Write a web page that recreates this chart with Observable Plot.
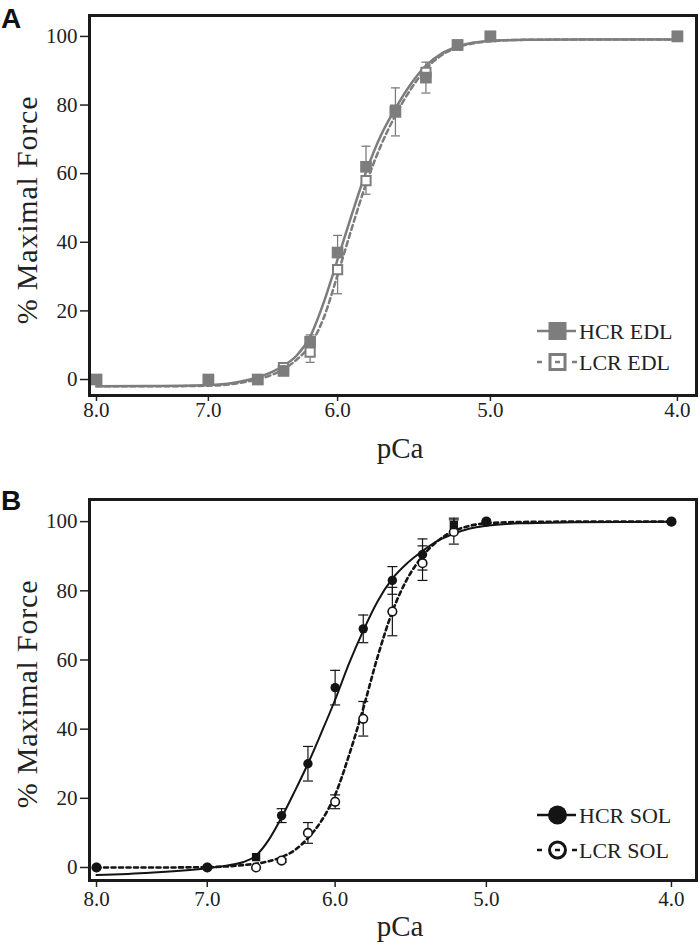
<!DOCTYPE html>
<html><head><meta charset="utf-8">
<script src="https://cdn.jsdelivr.net/npm/d3@7"></script>
<script src="https://cdn.jsdelivr.net/npm/@observablehq/plot@0.6"></script>
<style>
body{margin:0;background:#fff;}
#chart{width:700px;}
#chart svg{display:block;}
#chart svg text{font-family:'Liberation Serif','Times New Roman',serif !important;}
#chart svg text.panel-letter{font-family:'Liberation Sans',Arial,sans-serif !important;font-weight:bold;}
</style>
</head><body><div id="chart"></div>
<script>
// ---------- data ----------
const pCa = [8.0, 7.0, 6.6, 6.4, 6.2, 6.0, 5.8, 5.6, 5.4, 5.2, 5.0, 4.0];

// Panel A – EDL
const hcrEDL    = [0, 0, 0, 2.5, 11, 37, 62, 78, 88, 97.5, 100, 100];
const hcrEDLerr = [0, 0, 0, 1, 2, 5, 6, 7, 4.5, 1, 0, 0];
const lcrEDL    = [0, 0, 0, 3.5, 8, 32, 58, 78.5, 89.5, 97.5, 100, 100];
const lcrEDLerr = [0, 0, 0, 1, 3, 7, 4, 7.5, 6, 1, 0, 0];

// Panel B – SOL
const hcrSOL    = [0, 0, 3, 15, 30, 52, 69, 83, 90.5, 99, 100, 100];
const hcrSOLerr = [0, 0, 0, 2, 5, 5, 4, 4, 4.5, 2, 0, 0];
const lcrSOL    = [0, 0, 0, 2, 10, 19, 43, 74, 88, 97, 100, 100];
const lcrSOLerr = [0, 0, 0, 0.5, 3, 2, 5, 7, 5, 3.5, 0, 0];

// fitted curves
const fitPCa    = [8.0, 7.5, 7.0, 6.8, 6.7, 6.6, 6.5, 6.4, 6.3, 6.2, 6.1, 6.0, 5.9, 5.8, 5.7, 5.6, 5.5, 5.4, 5.3, 5.2, 5.1, 5.0, 4.8, 4.5, 4.0];
const hcrEDLfit = [-2, -1.9, -1.6, -1.0, -0.3, 0.6, 2, 4, 7, 12.5, 22.5, 35, 48, 60.5, 71, 79, 86, 91.5, 95, 97, 98.2, 98.7, 99, 99.1, 99.1];
const lcrEDLfit = [-2, -2, -1.8, -1.3, -0.7, 0, 1.2, 3, 5.8, 10, 18, 30.5, 44, 57, 68, 77, 84.5, 90.5, 94.5, 96.8, 98, 98.6, 99, 99.1, 99.1];
const hcrSOLfit = [-2.2, -1.5, -0.2, 0.8, 1.6, 3.5, 8, 14.5, 22, 30, 39, 48.5, 59, 68.5, 77, 83.5, 88, 91.5, 94.5, 96.5, 98, 98.8, 99.5, 99.8, 100];
const lcrSOLfit = [0, 0, 0.1, 0.4, 0.7, 1.1, 1.8, 3, 5, 8.5, 13.5, 21, 32.5, 46, 61, 74, 83.5, 90, 94.5, 97.3, 98.8, 99.5, 99.9, 100, 100];

const xTicks = [8, 7, 6, 5, 4];
const yTicks = [0, 20, 40, 60, 80, 100];
const seriesA = ["HCR EDL", "LCR EDL"];
const seriesB = ["HCR SOL", "LCR SOL"];
const yLabel = "% Maximal Force";
const xLabel = "pCa";

// ---------- helpers ----------
const SERIF = "'Liberation Serif', 'Times New Roman', serif";
const SANS = "'Liberation Sans', Arial, sans-serif";
const rows = (vals, errs) => pCa.map((p, i) => ({pCa: p, v: vals[i], e: errs[i]}));
const fitRows = (vals) => fitPCa.map((p, i) => ({pCa: p, v: vals[i]}));
const capSymbol = (hw) => ({draw(ctx) { ctx.moveTo(-hw, 0); ctx.lineTo(hw, 0); }});

function decorations(opts) {
  return () => {
    const g = d3.create("svg:g").attr("font-family", SERIF).attr("text-anchor", "start");
    g.append("text").attr("class", "panel-letter").attr("x", 1).attr("y", opts.letterY).attr("text-anchor", "start")
      .attr("font-family", SANS).attr("font-weight", "bold").attr("font-size", 28)
      .attr("fill", "#111").text(opts.letter);
    g.append("text").attr("transform", `translate(37,${opts.yLabelY}) rotate(-90)`)
      .attr("text-anchor", "middle").attr("font-size", 30).attr("letter-spacing", 0.8)
      .attr("fill", "#222").text(yLabel);
    g.append("text").attr("x", 400).attr("y", opts.xLabelY)
      .attr("text-anchor", "middle").attr("font-size", 29)
      .attr("fill", "#222").text(xLabel);
    // legend
    const c = opts.color;
    const [y1, y2] = opts.legendY;
    // row 1 (solid, filled)
    g.append("line").attr("x1", 537).attr("x2", 576).attr("y1", y1).attr("y2", y1)
      .attr("stroke", c).attr("stroke-width", 2.5);
    if (opts.shape === "square") {
      g.append("rect").attr("x", 548.5).attr("y", y1 - 9).attr("width", 18).attr("height", 18).attr("fill", c);
    } else {
      g.append("circle").attr("cx", 557.5).attr("cy", y1).attr("r", 9.5).attr("fill", c);
    }
    g.append("text").attr("x", 579).attr("y", y1 + 7.5).attr("text-anchor", "start")
      .attr("font-size", 22).attr("fill", "#222").text(opts.names[0]);
    // row 2 (dashed, open)
    g.append("line").attr("x1", 537).attr("x2", 542).attr("y1", y2).attr("y2", y2)
      .attr("stroke", c).attr("stroke-width", 2.5);
    g.append("line").attr("x1", 572).attr("x2", 577).attr("y1", y2).attr("y2", y2)
      .attr("stroke", c).attr("stroke-width", 2.5);
    if (opts.shape === "square") {
      g.append("rect").attr("x", 550).attr("y", y2 - 7.5).attr("width", 15).attr("height", 15)
        .attr("fill", "#fff").attr("stroke", c).attr("stroke-width", 3);
    } else {
      g.append("circle").attr("cx", 557.5).attr("cy", y2).attr("r", 8)
        .attr("fill", "#fff").attr("stroke", c).attr("stroke-width", 3);
    }
    g.append("line").attr("x1", 555).attr("x2", 560).attr("y1", y2).attr("y2", y2)
      .attr("stroke", c).attr("stroke-width", 2.5);
    g.append("text").attr("x", 579).attr("y", y2 + 7.5).attr("text-anchor", "start")
      .attr("font-size", 22).attr("fill", "#222").text(opts.names[1]);
    return g.node();
  };
}

const style = {fontFamily: SERIF, fontSize: "21px", color: "#222", background: "#fff", overflow: "visible"};
const axisFont = {fontFamily: SERIF, fontSize: 21};

// ---------- Panel A ----------
const grayA = "#7d7d7d";
const hA = rows(hcrEDL, hcrEDLerr), lA = rows(lcrEDL, lcrEDLerr);
const plotA = Plot.plot({
  width: 700, height: 470,
  marginLeft: 89, marginRight: 4, marginTop: 15, marginBottom: 75,
  style,
  x: {type: "log", domain: [8.067, 3.910]},
  y: {domain: [-4.66, 106.1]},
  marks: [
    Plot.axisY({ticks: yTicks, tickSize: 9, tickPadding: 3, label: null, strokeWidth: 1.5, ...axisFont}),
    Plot.axisX({ticks: xTicks, tickSize: 6, tickPadding: 1, label: null, tickFormat: d => d.toFixed(1), strokeWidth: 1.5, ...axisFont}),
    Plot.line(fitRows(lcrEDLfit), {x: "pCa", y: "v", stroke: grayA, strokeWidth: 2.5, strokeDasharray: "5,3.5", curve: "monotone-x"}),
    Plot.line(fitRows(hcrEDLfit), {x: "pCa", y: "v", stroke: grayA, strokeWidth: 2.5, curve: "monotone-x"}),
    // error bars: LCR downward, HCR upward
    Plot.ruleX(lA.filter(d => d.e > 0), {x: "pCa", y1: d => d.v - d.e, y2: "v", stroke: grayA, strokeWidth: 1.3}),
    Plot.dot(lA.filter(d => d.e > 0), {x: "pCa", y: d => d.v - d.e, symbol: capSymbol(4.5), stroke: grayA, strokeWidth: 1.3, fill: "none"}),
    Plot.ruleX(hA.filter(d => d.e > 0), {x: "pCa", y1: "v", y2: d => d.v + d.e, stroke: grayA, strokeWidth: 1.3}),
    Plot.dot(hA.filter(d => d.e > 0), {x: "pCa", y: d => d.v + d.e, symbol: capSymbol(4.5), stroke: grayA, strokeWidth: 1.3, fill: "none"}),
    Plot.dot(lA, {x: "pCa", y: "v", symbol: "square", r: 5.2, fill: "#fff", stroke: grayA, strokeWidth: 2}),
    Plot.dot(hA, {x: "pCa", y: "v", symbol: "square", r: 6.6, fill: grayA}),
    Plot.frame({stroke: "#1a1a1a", strokeWidth: 3}),
    decorations({letter: "A", letterY: 28, yLabelY: 210, xLabelY: 458, legendY: [331, 362], color: grayA, shape: "square", names: seriesA})
  ]
});

// ---------- Panel B ----------
const black = "#141414";
const hB = rows(hcrSOL, hcrSOLerr), lB = rows(lcrSOL, lcrSOLerr);
const plotB = Plot.plot({
  width: 700, height: 475,
  marginLeft: 89, marginRight: 4, marginTop: 29, marginBottom: 65,
  style,
  x: {type: "log", domain: [8.068, 3.881]},
  y: {domain: [-3.76, 106.4]},
  marks: [
    Plot.axisY({ticks: yTicks, tickSize: 9, tickPadding: 3, label: null, strokeWidth: 1.5, ...axisFont}),
    Plot.axisX({ticks: xTicks, tickSize: 7, tickPadding: 4, label: null, tickFormat: d => d.toFixed(1), strokeWidth: 1.5, ...axisFont}),
    Plot.line(fitRows(lcrSOLfit), {x: "pCa", y: "v", stroke: black, strokeWidth: 2.6, strokeDasharray: "4,3.5", curve: "monotone-x"}),
    Plot.line(fitRows(hcrSOLfit), {x: "pCa", y: "v", stroke: black, strokeWidth: 2, curve: "monotone-x"}),
    Plot.ruleX(lB.filter(d => d.e > 0), {x: "pCa", y1: d => d.v - d.e, y2: d => d.v + d.e, stroke: black, strokeWidth: 1.2}),
    Plot.dot(lB.filter(d => d.e > 0), {x: "pCa", y: d => d.v - d.e, symbol: capSymbol(5), stroke: black, strokeWidth: 1.2, fill: "none"}),
    Plot.dot(lB.filter(d => d.e > 0), {x: "pCa", y: d => d.v + d.e, symbol: capSymbol(5), stroke: black, strokeWidth: 1.2, fill: "none"}),
    Plot.ruleX(hB.filter(d => d.e > 0), {x: "pCa", y1: d => d.v - d.e, y2: d => d.v + d.e, stroke: black, strokeWidth: 1.2}),
    Plot.dot(hB.filter(d => d.e > 0), {x: "pCa", y: d => d.v - d.e, symbol: capSymbol(5), stroke: black, strokeWidth: 1.2, fill: "none"}),
    Plot.dot(hB.filter(d => d.e > 0), {x: "pCa", y: d => d.v + d.e, symbol: capSymbol(5), stroke: black, strokeWidth: 1.2, fill: "none"}),
    Plot.dot(lB, {x: "pCa", y: "v", r: 4.3, fill: "#fff", stroke: black, strokeWidth: 1.6}),
    Plot.dot(hB, {x: "pCa", y: "v", r: 4.7, fill: black, symbol: d => (d.pCa === 6.6 || d.pCa === 5.2) ? "square" : "circle"}),
    Plot.frame({stroke: "#1a1a1a", strokeWidth: 3}),
    decorations({letter: "B", letterY: 40, yLabelY: 224, xLabelY: 466, legendY: [345, 380], color: black, shape: "circle", names: seriesB})
  ]
});

const root = document.getElementById("chart");
root.appendChild(plotA);
root.appendChild(plotB);
</script>
</body></html>
